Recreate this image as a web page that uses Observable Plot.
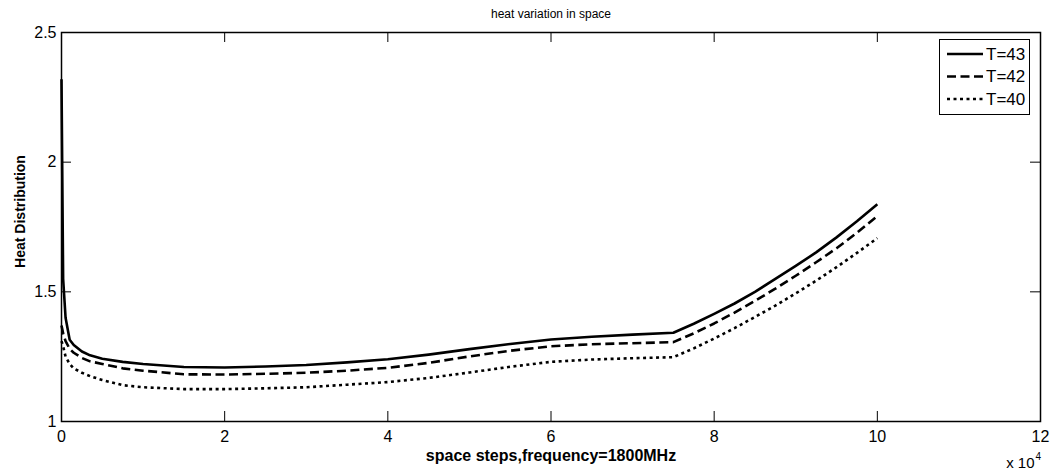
<!DOCTYPE html>
<html>
<head>
<meta charset="utf-8">
<script src="https://cdn.jsdelivr.net/npm/d3@7"></script>
<script src="https://cdn.jsdelivr.net/npm/@observablehq/plot@0.6"></script>
<style>
  html, body { margin: 0; padding: 0; background: #fff; }
  svg { display: block; }
</style>
</head>
<body>
<div id="chart"></div>
<script>
// ---- data (x in units of 10^4 space steps) ----
const xs = [0, 0.02, 0.05, 0.1, 0.15, 0.25, 0.35, 0.5, 0.75, 1, 1.5, 2, 2.5, 3, 3.5, 4, 4.5, 5, 5.5, 6, 6.5, 7, 7.5, 7.75, 8, 8.25, 8.5, 8.75, 9, 9.25, 9.5, 9.75, 10];
const T43 = [2.32, 1.55, 1.40, 1.315, 1.295, 1.27, 1.255, 1.242, 1.23, 1.222, 1.21, 1.208, 1.212, 1.218, 1.228, 1.24, 1.258, 1.279, 1.299, 1.316, 1.327, 1.335, 1.342, 1.377, 1.415, 1.455, 1.50, 1.55, 1.60, 1.652, 1.71, 1.772, 1.838];
const T42 = [1.37, 1.34, 1.31, 1.28, 1.265, 1.245, 1.232, 1.222, 1.205, 1.196, 1.182, 1.181, 1.184, 1.188, 1.196, 1.207, 1.226, 1.251, 1.273, 1.290, 1.298, 1.302, 1.306, 1.34, 1.378, 1.42, 1.465, 1.512, 1.562, 1.614, 1.668, 1.728, 1.792];
const T40 = [1.31, 1.29, 1.25, 1.222, 1.205, 1.188, 1.175, 1.16, 1.14, 1.132, 1.125, 1.125, 1.128, 1.132, 1.142, 1.152, 1.168, 1.189, 1.211, 1.230, 1.239, 1.244, 1.248, 1.282, 1.32, 1.36, 1.403, 1.447, 1.494, 1.543, 1.595, 1.65, 1.707];
const seriesNames = ["T=43", "T=42", "T=40"];
const seriesValues = [T43, T42, T40];
const xTicks = [0, 2, 4, 6, 8, 10, 12];
const yTicks = [1, 1.5, 2, 2.5];
const title = "heat variation in space";
const xLabel = "space steps,frequency=1800MHz";
const yLabel = "Heat Distribution";

// ---- styles ----
const dashes = [null, "9,4.5", "3,3.5"];
const W = 1052, H = 473;
const mL = 61, mR = 12, mT = 32, mB = 52;
const fw = W - mL - mR, fh = H - mT - mB;
const tickLen = 10;

const rows = [];
seriesNames.forEach((name, i) => {
  xs.forEach((x, j) => rows.push({series: name, x, y: seriesValues[i][j]}));
});

const lineMarks = seriesNames.map((name, i) =>
  Plot.line(rows.filter(d => d.series === name), {
    x: "x", y: "y", stroke: "black", strokeWidth: 2.6,
    strokeDasharray: dashes[i], curve: "linear", strokeLinecap: "butt", strokeLinejoin: "round"
  })
);

const chart = Plot.plot({
  width: W, height: H,
  marginLeft: mL, marginRight: mR, marginTop: mT, marginBottom: mB,
  style: {fontFamily: "'Liberation Sans', Arial, sans-serif", fontSize: "16px", background: "white", color: "black"},
  x: {domain: [0, 12], ticks: xTicks, tickFormat: d => String(d)},
  y: {domain: [1, 2.5], ticks: yTicks, tickFormat: d => String(d)},
  marks: [
    ...lineMarks,
    // inward ticks (bottom/top, left/right)
    Plot.tickX(xTicks, {x: d => d, stroke: "black", strokeWidth: 1, insetTop: fh - tickLen}),
    Plot.tickX(xTicks, {x: d => d, stroke: "black", strokeWidth: 1, insetBottom: fh - tickLen}),
    Plot.tickY(yTicks, {y: d => d, stroke: "black", strokeWidth: 1, insetRight: fw - tickLen}),
    Plot.tickY(yTicks, {y: d => d, stroke: "black", strokeWidth: 1, insetLeft: fw - tickLen}),
    Plot.frame({stroke: "black", strokeWidth: 1.5}),
    Plot.axisX({ticks: xTicks, tickSize: 0, tickPadding: 9, label: null, fontSize: 16, tickFormat: d => String(d)}),
    Plot.axisY({ticks: yTicks, tickSize: 0, tickPadding: 5, label: null, fontSize: 16, tickFormat: d => String(d)}),
    Plot.text([title], {frameAnchor: "top", dy: -18, fontSize: 12, lineAnchor: "middle"}),
    Plot.text([xLabel], {frameAnchor: "bottom", dy: 34, fontSize: 16, fontWeight: "bold", lineAnchor: "middle"}),
    Plot.text(["x 10"], {frameAnchor: "bottom-right", dx: -6, dy: 42, fontSize: 15, textAnchor: "end", lineAnchor: "middle"}),
    Plot.text(["4"], {frameAnchor: "bottom-right", dx: -5, dy: 35, fontSize: 10, textAnchor: "start", lineAnchor: "middle"})
  ]
});

const svg = d3.select(chart);

// ---- y-axis label ----
svg.append("text")
  .attr("transform", `translate(20,${mT + fh / 2 - 15}) rotate(-90)`)
  .attr("text-anchor", "middle").attr("dy", "0.35em")
  .attr("font-size", 14).attr("font-weight", "bold").attr("fill", "black")
  .text(yLabel);

// ---- legend ----
const lg = svg.append("g");
lg.append("rect").attr("x", 939.5).attr("y", 39.5).attr("width", 90).attr("height", 75)
  .attr("fill", "white").attr("stroke", "black").attr("stroke-width", 1);
seriesNames.forEach((name, i) => {
  const yy = 54 + 22.5 * i;
  lg.append("line").attr("x1", 947).attr("x2", 983).attr("y1", yy).attr("y2", yy)
    .attr("stroke", "black").attr("stroke-width", 2.6)
    .attr("stroke-dasharray", dashes[i] || null);
  lg.append("text").attr("x", 986).attr("y", yy).attr("dy", "0.35em")
    .attr("text-anchor", "start")
    .attr("font-size", 17).attr("fill", "black").text(name);
});

document.getElementById("chart").appendChild(chart);
</script>
</body>
</html>
